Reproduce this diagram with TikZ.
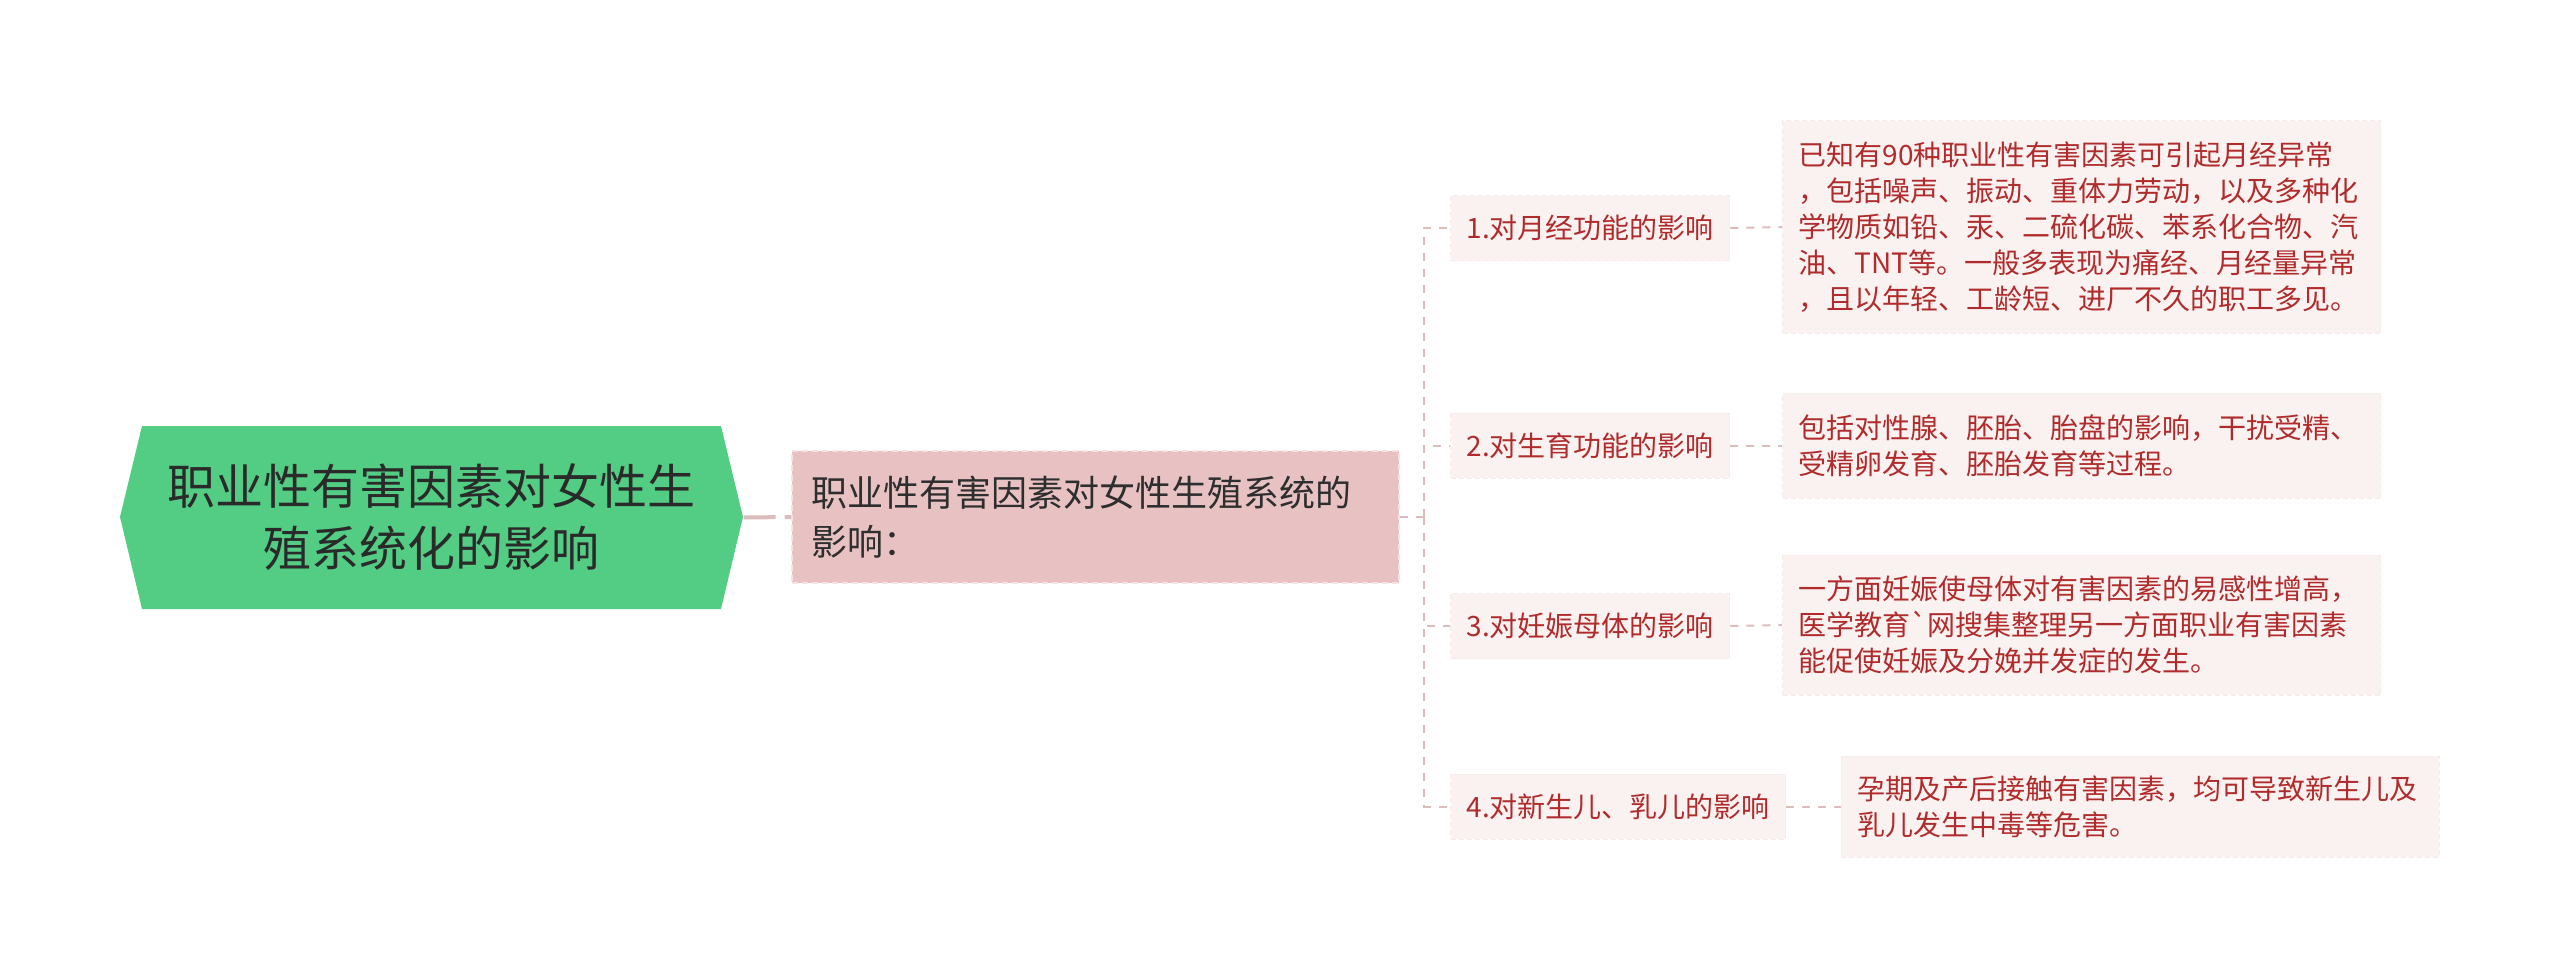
\documentclass[tikz,border=0pt]{standalone}
\usepackage{fontspec}
\newfontfamily\cjk{Noto Sans CJK SC}
\definecolor{rootgreen}{HTML}{53CD84}
\definecolor{roottext}{HTML}{2A2A2A}
\definecolor{subpink}{HTML}{E8C2C2}
\definecolor{subborder}{HTML}{F5E3E3}
\definecolor{subtext}{HTML}{2E2E2E}
\definecolor{leaffill}{HTML}{FAF1F1}
\definecolor{leafborder}{HTML}{F6EAEA}
\definecolor{leaftext}{HTML}{B02C2C}
\definecolor{linkcol}{HTML}{DCBCBD}
\tikzset{
  link/.style={draw=linkcol, line width=2pt, dash pattern=on 8pt off 8pt},
  rootlink/.style={draw=linkcol, line width=4pt, dash pattern=on 32pt off 9pt},
  rootnode/.style={font=\cjk\fontsize{48}{62}\selectfont, text=roottext, align=center, inner sep=0pt},
  subnode/.style={font=\cjk\fontsize{36}{49}\selectfont, text=subtext, fill=subpink, draw=subborder,
    line width=2pt, dash pattern=on 6pt off 4pt, align=left, text width=569pt, inner xsep=19pt,
    inner ysep=0pt, minimum height=132pt},
  midnode/.style={font=\cjk\fontsize{28}{36}\selectfont, text=leaftext, fill=leaffill, draw=leafborder,
    line width=1pt, dash pattern=on 5pt off 3pt, inner xsep=16pt, inner ysep=0pt, minimum height=65pt},
  leafnode/.style={font=\cjk\fontsize{28}{36}\selectfont, text=leaftext, fill=leaffill, draw=leafborder,
    line width=1pt, dash pattern=on 5pt off 3pt, align=left, text width=566pt, inner xsep=16pt, inner ysep=0pt}
}
\begin{document}
\begin{tikzpicture}[x=1pt,y=-1pt]
\useasboundingbox (0,0) rectangle (2560,979);
% root hexagon
\fill[rootgreen] (120,517) -- (142,426) -- (721,426) -- (743,517) -- (721,609) -- (142,609) -- cycle;
\node[rootnode, minimum width=624pt, minimum height=183pt] (root) at (431.5,517.5) {职业性有害因素对女性生\\殖系统化的影响};
\node[subnode] (sub) at (1095.5,517) {职业性有害因素对女性生殖系统的\\影响：};
\coordinate (trunk) at (1424,517);

\node[midnode, anchor=west] (m1) at (1450,228) {1.对月经功能的影响};
\node[midnode, anchor=west] (m2) at (1450,445.5) {2.对生育功能的影响};
\node[midnode, anchor=west] (m3) at (1450,626) {3.对妊娠母体的影响};
\node[midnode, anchor=west] (m4) at (1450,806.5) {4.对新生儿、乳儿的影响};

\node[leafnode, minimum height=212pt] (l1) at (2081.5,227) {已知有90种职业性有害因素可引起月经异常\\，包括噪声、振动、重体力劳动，以及多种化\\学物质如铅、汞、二硫化碳、苯系化合物、汽\\油、TNT等。一般多表现为痛经、月经量异常\\，且以年轻、工龄短、进厂不久的职工多见。};
\node[leafnode, minimum height=105pt] (l2) at (2081.5,445.5) {包括对性腺、胚胎、胎盘的影响，干扰受精、\\受精卵发育、胚胎发育等过程。};
\node[leafnode, minimum height=140pt] (l3) at (2081.5,625) {一方面妊娠使母体对有害因素的易感性增高，\\医学教育`网搜集整理另一方面职业有害因素\\能促使妊娠及分娩并发症的发生。};
\node[leafnode, minimum height=101pt] (l4) at (2140,806.5) {孕期及产后接触有害因素，均可导致新生儿及\\乳儿发生中毒等危害。};

\draw[rootlink] (root.east) -- (sub.west);
\draw[link] (sub.east) -- (trunk);
\draw[link] (trunk) |- (m1.west);
\draw[link] (trunk) |- (m2.west);
\draw[link] (trunk) |- (m3.west);
\draw[link] (trunk) |- (m4.west);
\draw[link] (m1.east) -- (l1.west);
\draw[link] (m2.east) -- (l2.west);
\draw[link] (m3.east) -- (l3.west);
\draw[link] (m4.east) -- (l4.west);
\end{tikzpicture}
\end{document}
